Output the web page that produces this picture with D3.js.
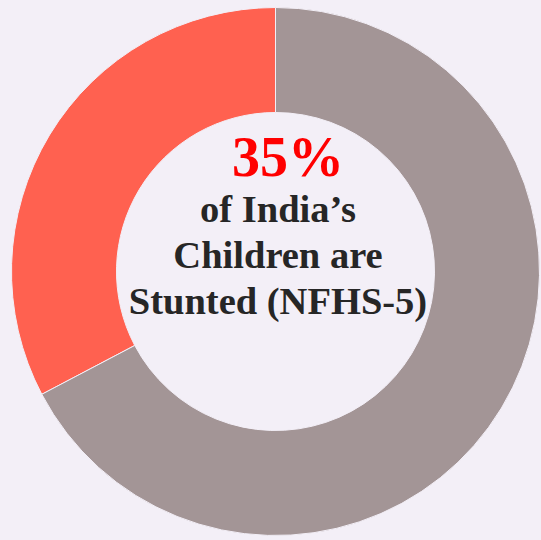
<!DOCTYPE html>
<html><head><meta charset="utf-8">
<script src="https://cdn.jsdelivr.net/npm/d3@7"></script>
<style>html,body{margin:0;padding:0;background:#f3eff7;}svg{display:block;}</style>
</head><body>
<svg id="c" width="541" height="540"></svg>
<script>
const categories = ["Stunted", "Not stunted"];
const values = [32.7, 67.3];
const colors = ["#ff6150", "#a39596"];
const headline = "35%";
const captionLines = ["of India\u2019s", "Children are", "Stunted (NFHS-5)"];

const svg = d3.select("#c");
const W = 541, H = 540;
svg.append("rect").attr("width", W).attr("height", H).attr("fill", "#f3eff7");
const g = svg.append("g").attr("transform", "translate(275.5,271.5)");

const pie = d3.pie().value(d => d.v);
const arc = d3.arc().innerRadius(159).outerRadius(264);
const color = d3.scaleOrdinal().domain(categories).range(colors);
const data = categories.map((c, i) => ({c, v: values[i]}));

g.selectAll("path").data(pie(data)).join("path")
  .attr("d", arc)
  .attr("fill", d => color(d.data.c))
  .attr("stroke", "#f3eff7")
  .attr("stroke-width", 1);

svg.append("text")
  .attr("x", 288).attr("y", 176)
  .attr("text-anchor", "middle")
  .attr("font-family", "'Liberation Serif', 'Times New Roman', serif")
  .attr("font-weight", "bold")
  .attr("font-size", 56)
  .attr("fill", "#ff0000")
  .text(headline);

svg.selectAll("text.cap").data(captionLines).join("text")
  .attr("class", "cap")
  .attr("x", 278).attr("y", (d, i) => 222 + i * 46)
  .attr("text-anchor", "middle")
  .attr("font-family", "'Liberation Serif', 'Times New Roman', serif")
  .attr("font-weight", "bold")
  .attr("font-size", 38.5)
  .attr("fill", "#262626")
  .text(d => d);
</script>
</body></html>
